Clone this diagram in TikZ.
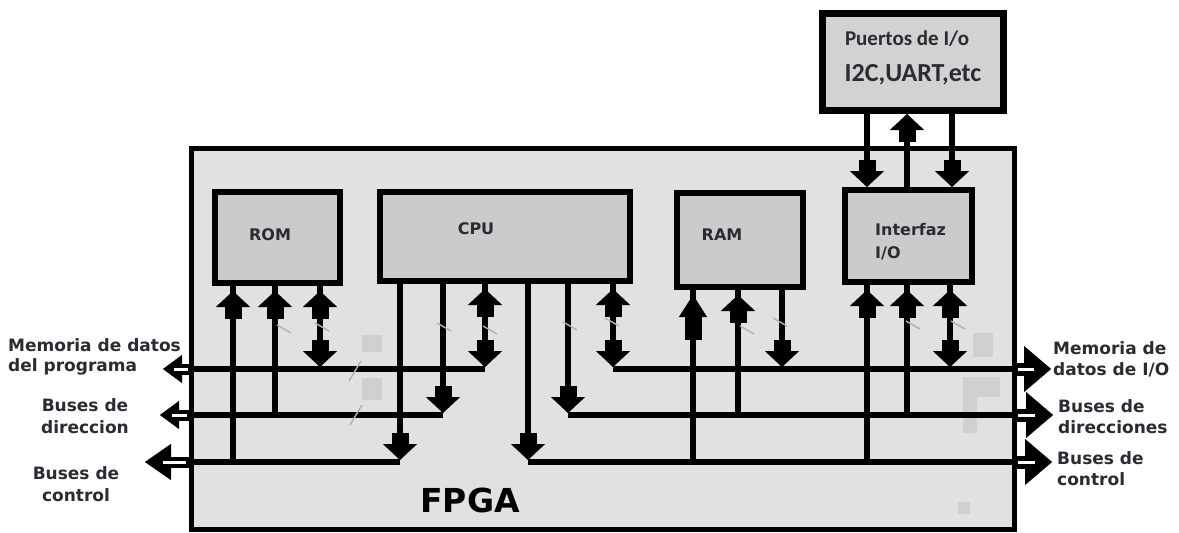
\documentclass[tikz,border=0pt]{standalone}
\usepackage{fontspec}
\setmainfont{DejaVu Sans}
\newfontfamily\calfont{Carlito}
\usetikzlibrary{arrows.meta,decorations.markings,calc}
\definecolor{fpgafill}{HTML}{E1E1E1}
\definecolor{boxfill}{HTML}{CBCBCB}
\definecolor{portfill}{HTML}{D2D2D2}
\definecolor{spotfill}{HTML}{D0D0D0}
\definecolor{txt}{HTML}{2B2B33}
\tikzset{
  blk/.tip={Rectangle[width=16pt,length=11pt,line width=0.1pt] Triangle[width=34pt,length=16pt,line width=0.1pt]},
  blkL/.tip={Rectangle[width=16pt,length=22pt,line width=0.1pt] Triangle[width=28pt,length=22pt,line width=0.1pt]},
  hdL/.tip={Triangle[width=28pt,length=19pt,line width=0.1pt]},
  hdLC/.tip={Triangle[width=36pt,length=26pt,line width=0.1pt]},
  hdR/.tip={Triangle[width=46pt,length=27pt,line width=0.1pt]},
  blockbox/.style={draw, line width=5.5pt, fill=boxfill, inner sep=0pt, outer sep=0pt},
  wire/.style={line width=5.5pt, line cap=butt},
  dnar/.style={wire, -{blk}, shorten >=2pt},
  upar/.style={wire, postaction=decorate,
     decoration={markings, mark=at position -8pt with {\arrow{blk}}}},
  uparL/.style={wire, postaction=decorate,
     decoration={markings, mark=at position -8pt with {\arrow{blkL}}}},
  dblar/.style={wire, -{blk}, shorten >=2pt, postaction=decorate,
     decoration={markings, mark=at position 8pt with {\arrowreversed{blk}}}},
  outL/.style={line width=11pt},
  outR/.style={line width=13pt},
  core/.style={white, line width=3pt},
  lbl/.style={font=\bfseries\fontsize{16}{20}\selectfont, text=txt, inner sep=0pt},
  side/.style={font=\bfseries\fontsize{17}{21}\selectfont, text=txt, inner sep=0pt, align=left},
  tickmark/.style={gray!60, line width=1.4pt},
  spot/.style={fill=spotfill}
}
\begin{document}
\begin{tikzpicture}[x=1pt,y=-1pt]
\useasboundingbox (0,0) rectangle (1179,533);
\fill[white] (0,0) rectangle (1179,533);

% FPGA
\node[draw, line width=5pt, fill=fpgafill, inner sep=0pt, outer sep=0pt,
      minimum width=823pt, minimum height=381pt] (fpga) at (602.5,338.5) {};

% faint spots
\fill[spot] (362,335) rectangle (382,352);
\fill[spot] (362,378) rectangle (382,400);
\fill[spot] (973,333) rectangle (993,357);
\fill[spot] (963,377) rectangle (1000,397);
\fill[spot] (963,397) rectangle (977,433);
\fill[spot] (958,502) rectangle (970,514);

% blocks
\node[blockbox, minimum width=125pt, minimum height=91pt] (rom) at (277.5,237.5) {};
\node[blockbox, minimum width=250pt, minimum height=89pt] (cpu) at (505,236.5) {};
\node[blockbox, minimum width=126pt, minimum height=94pt] (ram) at (740,240) {};
\node[blockbox, minimum width=127pt, minimum height=92pt] (io) at (908.5,236) {};
\node[draw, line width=7pt, fill=portfill, inner sep=0pt, outer sep=0pt,
      minimum width=181pt, minimum height=97pt] (ports) at (912.5,61.5) {};

% bus coordinates
\coordinate (LD0) at (191,369); \coordinate (LD1) at (485,369);
\coordinate (LA0) at (191,415); \coordinate (LA1) at (443,415);
\coordinate (LC0) at (191,462); \coordinate (LC1) at (400,462);
\coordinate (RD0) at (613,369); \coordinate (RD1) at (1014,369);
\coordinate (RA0) at (568,415); \coordinate (RA1) at (1014,415);
\coordinate (RC0) at (528,462); \coordinate (RC1) at (1014,462);
\coordinate (LDt) at (163,369); \coordinate (LAt) at (160,415); \coordinate (LCt) at (145,462);
\coordinate (RDt) at (1051,369); \coordinate (RAt) at (1053,415); \coordinate (RCt) at (1052,462);

% taps
\coordinate (t1) at (233,462); \coordinate (t2) at (275,415); \coordinate (t3) at (320,369);
\coordinate (c1) at (400,462); \coordinate (c2) at (443,415); \coordinate (c3) at (485,369);
\coordinate (c4) at (528,462); \coordinate (c5) at (568,415); \coordinate (c6) at (613,369);
\coordinate (m1) at (693,462); \coordinate (m2) at (738,415); \coordinate (m3) at (782,369);
\coordinate (i1) at (867,462); \coordinate (i2) at (907,415); \coordinate (i3) at (950,369);
\coordinate (p1) at (867,0); \coordinate (p2) at (907,0); \coordinate (p3) at (952,0);

% buses
\draw[wire] (LD0) -- (LD1);
\draw[wire] (LA0) -- (LA1);
\draw[wire] (LC0) -- (LC1);
\draw[wire] (RD0) -- (RD1);
\draw[wire] (RA0) -- (RA1);
\draw[wire] (RC0) -- (RC1);

% ROM taps
\draw[upar] (t1) -- (t1 |- rom.south);
\draw[upar] (t2) -- (t2 |- rom.south);
\draw[dblar] (t3 |- rom.south) -- (t3);
% CPU taps
\draw[dnar] (c1 |- cpu.south) -- (c1);
\draw[dnar] (c2 |- cpu.south) -- (c2);
\draw[dblar] (c3 |- cpu.south) -- (c3);
\draw[dnar] (c4 |- cpu.south) -- (c4);
\draw[dnar] (c5 |- cpu.south) -- (c5);
\draw[dblar] (c6 |- cpu.south) -- (c6);
% RAM taps
\draw[uparL] (m1) -- (m1 |- ram.south);
\draw[upar] (m2) -- (m2 |- ram.south);
\draw[dnar] (m3 |- ram.south) -- (m3);
% IO taps
\draw[upar] (i1) -- (i1 |- io.south);
\draw[upar] (i2) -- (i2 |- io.south);
\draw[dblar] (i3 |- io.south) -- (i3);
% ports
\draw[dnar, shorten >=3pt] (p1 |- ports.south) -- (p1 |- io.north);
\draw[dnar, shorten >=4pt] (p2 |- io.north) -- (p2 |- ports.south);
\draw[dnar, shorten >=3pt] (p3 |- ports.south) -- (p3 |- io.north);

% outside hollow arrows
\draw[outL, -{hdL}] (LD0) -- (LDt);
\draw[core] ($(LD0)!0.12!(LDt)$) -- ($(LD0)!0.6!(LDt)$);
\draw[outL, -{hdL}] (LA0) -- (LAt);
\draw[core] ($(LA0)!0.12!(LAt)$) -- ($(LA0)!0.6!(LAt)$);
\draw[outL, -{hdLC}] (LC0) -- (LCt);
\draw[core] ($(LC0)!0.1!(LCt)$) -- ($(LC0)!0.6!(LCt)$);
\draw[outR, -{hdR}] (RD1) -- (RDt);
\draw[core] ($(RD1)!0.1!(RDt)$) -- ($(RD1)!0.55!(RDt)$);
\draw[outR, -{hdR}] (RA1) -- (RAt);
\draw[core] ($(RA1)!0.1!(RAt)$) -- ($(RA1)!0.55!(RAt)$);
\draw[outR, -{hdR}] (RC1) -- (RCt);
\draw[core] ($(RC1)!0.1!(RCt)$) -- ($(RC1)!0.55!(RCt)$);

% faint tick marks
\foreach \cx/\cy in {284/329, 322/327, 444/327, 490/330, 570/326, 612/322, 747/330, 780/322, 913/325, 958/325}
  \draw[tickmark] (\cx-7,\cy-4) -- (\cx+7,\cy+4);
\draw[tickmark] (349,381) -- (361,361);
\draw[tickmark] (350,425) -- (362,405);

% labels in blocks
\node[lbl] (romlbl) at (270,235) {ROM};
\node[lbl] (cpulbl) at (476,229) {CPU};
\node[lbl] (ramlbl) at (722,235) {RAM};
\node[lbl, align=left, anchor=west, font=\bfseries\fontsize{16}{23}\selectfont] (iolbl) at (875,241.5) {Interfaz\\I/O};
\node[text=txt, inner sep=0pt, font=\calfont\bfseries\fontsize{21}{24}\selectfont] (portlbl1) at (907,39) {Puertos de I/o};
\node[text=txt, inner sep=0pt, font=\calfont\bfseries\fontsize{26}{28}\selectfont] (portlbl2) at (913,75) {I2C,UART,etc};
\node[text=black, inner sep=0pt, font=\bfseries\fontsize{33}{36}\selectfont] (fpgalbl) at (470,500) {FPGA};

% side labels
\node[side, anchor=west, font=\bfseries\fontsize{17}{20}\selectfont] (l1) at (8,357) {Memoria de datos\\del programa};
\node[side, align=center, font=\bfseries\fontsize{17}{22}\selectfont] (l2) at (85,416) {Buses de\\direccion};
\node[side, align=center, font=\bfseries\fontsize{17}{22}\selectfont] (l3) at (76,484) {Buses de\\control};
\node[side, anchor=west] (r1) at (1053,359) {Memoria de\\datos de I/O};
\node[side, anchor=west] (r2) at (1058,417) {Buses de\\direcciones};
\node[side, anchor=west] (r3) at (1057,469) {Buses de\\control};
\end{tikzpicture}
\end{document}
